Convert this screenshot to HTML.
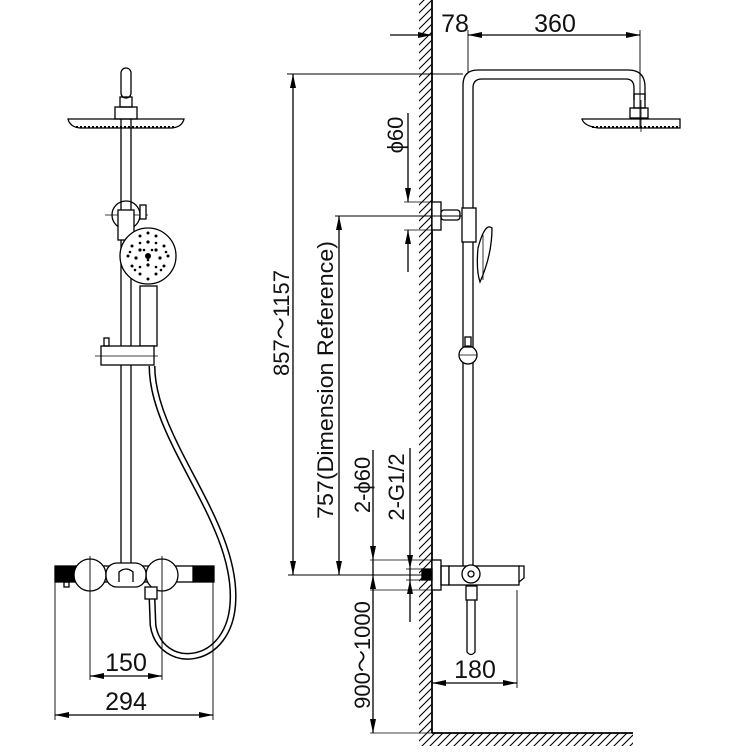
<!DOCTYPE html>
<html><head><meta charset="utf-8"><style>html,body{margin:0;padding:0;background:#fff}svg{display:block}text{font-family:"Liberation Sans",sans-serif;fill:#111}</style></head><body>
<svg id="s" width="754" height="753" viewBox="0 0 754 753" xmlns="http://www.w3.org/2000/svg">
<defs>
<pattern id="h" width="8" height="8" patternUnits="userSpaceOnUse"><path d="M0 8L8 0M-2 2L2 -2M6 10L10 6" stroke="#000" stroke-width="1.1"/></pattern>
</defs>
<g fill="none" stroke="#000" stroke-width="1.3">
<rect x="419" y="0" width="13" height="733" fill="url(#h)" stroke="none"/>
<rect x="419" y="733" width="214" height="13" fill="url(#h)" stroke="none"/>
<line x1="432" y1="0" x2="432" y2="733" stroke-width="1.8"/>
<line x1="432" y1="733" x2="633" y2="733" stroke-width="1.8"/>

<rect x="121" y="68" width="10" height="30" rx="5"/>
<rect x="120" y="97" width="12" height="10"/>
<rect x="115" y="107" width="22" height="12"/>
<path d="M68 119 L184 119 Q182 127 172 128 L80 128 Q70 127 68 119Z"/>
<line x1="76" y1="127" x2="176" y2="127" stroke-width="2" stroke-dasharray="2 2"/>
<line x1="121" y1="119" x2="121" y2="575"/><line x1="131" y1="119" x2="131" y2="575"/>
<circle cx="126" cy="215" r="14"/>
<line x1="105" y1="215" x2="148" y2="215" stroke-width="0.8"/>
<rect x="118" y="210" width="16" height="30" fill="#fff"/>
<rect x="140" y="205" width="6" height="14" fill="#fff"/>
<rect x="140" y="286" width="17" height="60" fill="#fff"/>
<circle cx="148" cy="256" r="28" fill="#fff"/>
<g fill="#000" stroke="none">
<circle cx="148" cy="256" r="3"/><circle cx="140" cy="250" r="1.6"/><circle cx="156" cy="250" r="1.6"/><circle cx="148" cy="265" r="1.6"/>
<circle cx="136" cy="258" r="1.6"/><circle cx="160" cy="258" r="1.6"/><circle cx="148" cy="242" r="1.6"/>
<circle cx="132" cy="246" r="1.5"/><circle cx="164" cy="246" r="1.5"/><circle cx="132" cy="266" r="1.5"/><circle cx="164" cy="266" r="1.5"/>
<circle cx="140" cy="236" r="1.5"/><circle cx="156" cy="236" r="1.5"/><circle cx="140" cy="274" r="1.5"/><circle cx="156" cy="274" r="1.5"/>
<circle cx="128" cy="256" r="1.5"/><circle cx="168" cy="256" r="1.5"/><circle cx="148" cy="233" r="1.5"/><circle cx="148" cy="279" r="1.5"/>
<circle cx="144" cy="250" r="1.3"/><circle cx="152" cy="250" r="1.3"/><circle cx="148" cy="260" r="1.3"/>
<circle cx="140" cy="243" r="1.3"/><circle cx="156" cy="243" r="1.3"/><circle cx="140" cy="267" r="1.3"/><circle cx="156" cy="267" r="1.3"/>
<circle cx="130" cy="252" r="1.3"/><circle cx="166" cy="252" r="1.3"/><circle cx="135" cy="270" r="1.3"/><circle cx="161" cy="270" r="1.3"/>
</g>
<rect x="101" y="346" width="53" height="19" fill="#fff"/>
<line x1="95" y1="356" x2="158" y2="356" stroke-width="0.8"/>
<rect x="104" y="338" width="5" height="8"/>
<path d="M152 366 C152 440 236 520 233 600 C231 668 160 672 153 625 L152 598" stroke-width="7"/>
<path d="M152 366 C152 440 236 520 233 600 C231 668 160 672 153 625 L152 598" stroke="#fff" stroke-width="4"/>
<rect x="55" y="566" width="21" height="16" fill="#000"/>
<rect x="193" y="566" width="21" height="16" fill="#000"/>
<rect x="76" y="566" width="117" height="16" fill="#fff"/>
<circle cx="90" cy="575" r="16" fill="#fff"/><circle cx="162" cy="575" r="16" fill="#fff"/>
<rect x="106" y="563" width="40" height="24" rx="11" fill="#fff"/>
<path d="M119 582 L119 572 Q126 566 133 572 L133 582" fill="#fff"/>
<rect x="64" y="582" width="5" height="5"/>
<rect x="145" y="587" width="12" height="12" fill="#fff"/>
<line x1="55" y1="582" x2="55" y2="720" stroke-width="0.9"/><line x1="213" y1="582" x2="213" y2="720" stroke-width="0.9"/>
<line x1="90" y1="556" x2="90" y2="680" stroke-width="0.9"/><line x1="162" y1="556" x2="162" y2="680" stroke-width="0.9"/>
<line x1="90" y1="676" x2="162" y2="676"/>
<line x1="55" y1="715" x2="213" y2="715"/>

<path d="M463 575 L463 85 Q463 70 478 70 L628 70 Q645 70 645 87 L645 100"/>
<path d="M473 575 L473 88 Q473 79 482 79 L626 79 Q634 79 634 88 L634 100"/>
<rect x="634" y="94" width="11" height="14"/>
<rect x="630" y="108" width="18" height="10"/>
<path d="M582 119 L680 119 L680 128 L598 128 Q584 126 582 119Z"/>
<line x1="592" y1="127" x2="680" y2="127" stroke-width="2" stroke-dasharray="2 2"/>
<line x1="641" y1="100" x2="641" y2="132" stroke-width="0.8"/>
<rect x="432" y="202" width="9" height="28" fill="#fff"/>
<rect x="441" y="210" width="19" height="10" rx="3" fill="#fff"/>
<rect x="462" y="208" width="14" height="34" fill="#fff"/>
<path d="M478 248 Q485 222 492 228 Q492 255 480 282 Q476 270 478 248Z" fill="#fff"/>
<line x1="483" y1="235" x2="483" y2="280" stroke-width="0.8"/>
<circle cx="468" cy="355" r="9" fill="#fff"/>
<line x1="459" y1="355" x2="477" y2="355" stroke-width="0.8"/>
<rect x="465" y="337" width="6" height="10"/>
<rect x="432" y="560" width="9" height="30" fill="#fff"/>
<rect x="422" y="569" width="10" height="11" fill="#000"/>
<rect x="441" y="566" width="8" height="19"/>
<rect x="449" y="566" width="70" height="19" fill="#fff"/>
<path d="M519 566 L524 566 L524 578 L519 582"/>
<circle cx="471" cy="574" r="9" fill="#fff"/><circle cx="471" cy="574" r="3"/>
<rect x="466" y="586" width="11" height="14"/>
<path d="M467 600 L467 652 Q471 657 475 652 L475 600"/>
<line x1="390" y1="35" x2="432" y2="35"/>
<line x1="468" y1="35" x2="640" y2="35"/>
<line x1="468" y1="30" x2="468" y2="73" stroke-width="0.9"/>
<line x1="640" y1="30" x2="640" y2="128" stroke-width="0.9"/>
<line x1="287" y1="74" x2="463" y2="74" stroke-width="0.9"/>
<line x1="293" y1="74" x2="293" y2="575"/>
<line x1="335" y1="216" x2="462" y2="216" stroke-width="0.9"/>
<line x1="339" y1="216" x2="339" y2="575"/>
<line x1="408" y1="113" x2="408" y2="202"/>
<line x1="408" y1="272" x2="408" y2="230"/>
<line x1="404" y1="202" x2="432" y2="202" stroke-width="0.8"/><line x1="404" y1="230" x2="432" y2="230" stroke-width="0.8"/>
<line x1="288" y1="575" x2="432" y2="575" stroke-width="0.9"/>
<line x1="370" y1="560" x2="432" y2="560" stroke-width="0.8"/><line x1="370" y1="590" x2="432" y2="590" stroke-width="0.8"/>
<line x1="373" y1="450" x2="373" y2="733"/>
<line x1="370" y1="733" x2="432" y2="733" stroke-width="0.8"/>
<line x1="410" y1="448" x2="410" y2="622"/>
<line x1="406" y1="569" x2="422" y2="569" stroke-width="0.8"/><line x1="406" y1="580" x2="422" y2="580" stroke-width="0.8"/>
<line x1="432" y1="683" x2="517" y2="683"/>
<line x1="517" y1="590" x2="517" y2="688" stroke-width="0.9"/>
</g>
<g fill="#000" stroke="none">
<polygon points="90,676 104,673 104,679"/><polygon points="162,676 148,673 148,679"/>
<polygon points="55,715 69,712 69,718"/><polygon points="213,715 199,712 199,718"/>
<polygon points="432,35 418,32 418,38"/>
<polygon points="468,35 482,32 482,38"/><polygon points="640,35 626,32 626,38"/>
<polygon points="432,683 446,680 446,686"/><polygon points="517,683 503,680 503,686"/>
<polygon points="293,74 290,88 296,88"/><polygon points="293,575 290,561 296,561"/>
<polygon points="339,216 336,230 342,230"/><polygon points="339,575 336,561 342,561"/>
<polygon points="408,202 405,188 411,188"/><polygon points="408,230 405,244 411,244"/>
<polygon points="373,560 370,546 376,546"/><polygon points="373,575 370,589 376,589"/><polygon points="373,733 370,719 376,719"/>
<polygon points="410,569 407,555 413,555"/><polygon points="410,580 407,594 413,594"/>
</g>
<g font-size="25">
<text x="126" y="671" text-anchor="middle">150</text>
<text x="126" y="710" text-anchor="middle">294</text>
<text x="455" y="32" text-anchor="middle">78</text>
<text x="555" y="32" text-anchor="middle">360</text>
<text x="475" y="678" text-anchor="middle">180</text>
</g>
<g font-size="22">
<text transform="translate(289 323) rotate(-90)" text-anchor="middle">857～1157</text>
<text transform="translate(333 380) rotate(-90)" text-anchor="middle" textLength="278" lengthAdjust="spacingAndGlyphs">757(Dimension Reference)</text>
<text transform="translate(403 135) rotate(-90)" text-anchor="middle">ϕ60</text>
<text transform="translate(370 485) rotate(-90)" text-anchor="middle">2-ϕ60</text>
<text transform="translate(404 487) rotate(-90)" text-anchor="middle">2-G1/2</text>
<text transform="translate(370 655) rotate(-90)" text-anchor="middle">900～1000</text>
</g>
</svg>
</body></html>
